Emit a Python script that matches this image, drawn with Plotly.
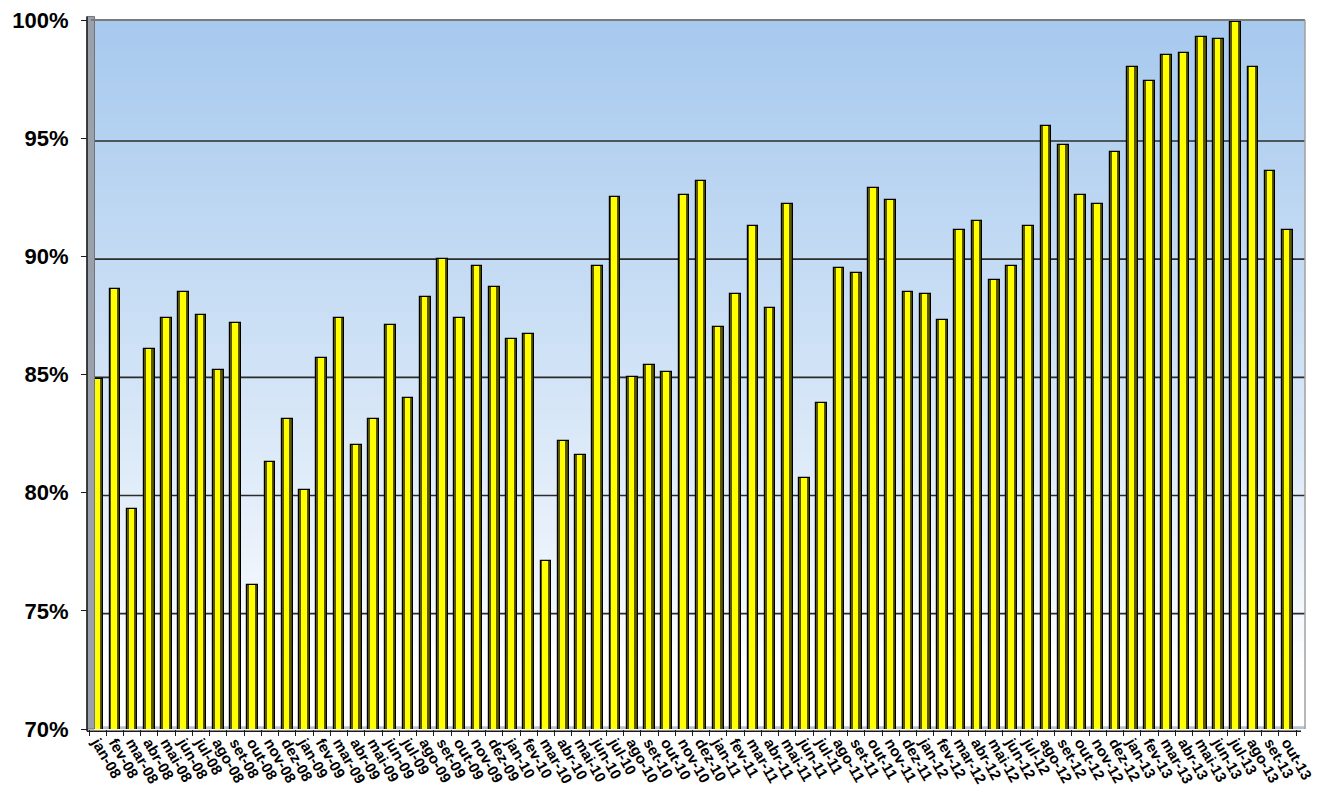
import plotly.graph_objects as go

# Monthly rates, jan-08 .. out-13 (percent)
months = [
    "jan-08", "fev-08", "mar-08", "abr-08", "mai-08", "jun-08", "jul-08", "ago-08", "set-08", "out-08", "nov-08", "dez-08",
    "jan-09", "fev-09", "mar-09", "abr-09", "mai-09", "jun-09", "jul-09", "ago-09", "set-09", "out-09", "nov-09", "dez-09",
    "jan-10", "fev-10", "mar-10", "abr-10", "mai-10", "jun-10", "jul-10", "ago-10", "set-10", "out-10", "nov-10", "dez-10",
    "jan-11", "fev-11", "mar-11", "abr-11", "mai-11", "jun-11", "jul-11", "ago-11", "set-11", "out-11", "nov-11", "dez-11",
    "jan-12", "fev-12", "mar-12", "abr-12", "mai-12", "jun-12", "jul-12", "ago-12", "set-12", "out-12", "nov-12", "dez-12",
    "jan-13", "fev-13", "mar-13", "abr-13", "mai-13", "jun-13", "jul-13", "ago-13", "set-13", "out-13",
]
values = [
    84.8, 88.6, 79.3, 86.1, 87.4, 88.5, 87.5, 85.2, 87.2, 76.1, 81.3, 83.1,
    80.1, 85.7, 87.4, 82.0, 83.1, 87.1, 84.0, 88.3, 89.9, 87.4, 89.6, 88.7,
    86.5, 86.7, 77.1, 82.2, 81.6, 89.6, 92.5, 84.9, 85.4, 85.1, 92.6, 93.2,
    87.0, 88.4, 91.3, 87.8, 92.2, 80.6, 83.8, 89.5, 89.3, 92.9, 92.4, 88.5,
    88.4, 87.3, 91.1, 91.5, 89.0, 89.6, 91.3, 95.5, 94.7, 92.6, 92.2, 94.4,
    98.0, 97.4, 98.5, 98.6, 99.3, 99.2, 99.9, 98.0, 93.6, 91.1,
]
y_ticks = [70, 75, 80, 85, 90, 95, 100]
y_tick_text = ["70%", "75%", "80%", "85%", "90%", "95%", "100%"]

W, H = 1317, 789
M_L, M_R, M_T, M_B = 89, 21, 20, 60
PW = W - M_L - M_R


def px_x(p):
    """Convert a horizontal pixel position to paper coordinates."""
    return (p - M_L) / PW


fig = go.Figure()

# column body: dark olive shading, bright yellow face, black outline
fig.add_trace(go.Bar(x=months, y=values, width=0.62, offset=-0.31,
                     marker=dict(color="#5a5700", line=dict(width=0)),
                     hoverinfo="skip", showlegend=False))
fig.add_trace(go.Bar(x=months, y=values, width=0.32, offset=-0.20,
                     marker=dict(color="#FFFF00", line=dict(width=0)),
                     hovertemplate="%{x}: %{y:.1f}%<extra></extra>", showlegend=False))
fig.add_trace(go.Bar(x=months, y=values, width=0.62, offset=-0.31,
                     marker=dict(color="rgba(0,0,0,0)", line=dict(color="#000000", width=1.2)),
                     hoverinfo="skip", showlegend=False))

shapes = []

# back wall: vertical gradient from pale blue at the top to white near the floor
top_rgb = (167, 201, 238)
n_bands = 90
step = 30 / n_bands
for i in range(n_bands):
    y0 = 70 + step * i
    y1 = y0 + step * 1.6  # overlap neighbouring bands to avoid seams
    t = max(0.0, min(1.0, (y0 + step / 2 - 72.5) / 27.5)) ** 0.85
    r, g, b = (round(255 + (c - 255) * t) for c in top_rgb)
    shapes.append(dict(type="rect", xref="paper", yref="y", x0=0, x1=px_x(1305), y0=y0, y1=min(y1, 100),
                       fillcolor=f"rgb({r},{g},{b})", line=dict(width=0), layer="below"))

# horizontal gridlines drawn on the wall
for v in y_ticks[1:-1]:
    shapes.append(dict(type="line", xref="paper", yref="y", x0=0, x1=px_x(1305), y0=v - 0.12, y1=v - 0.12,
                       line=dict(color="#2b2b2b", width=1.6), layer="below"))

# left side wall of the chart box
shapes.append(dict(type="rect", xref="paper", yref="paper", x0=px_x(87), x1=px_x(94.5), y0=0, y1=1.005,
                   fillcolor="#9aa1aa", line=dict(color="#6f747a", width=1), layer="above"))
# floor strip
shapes.append(dict(type="rect", xref="paper", yref="y", x0=px_x(87), x1=px_x(1305), y0=69.93, y1=70.12,
                   fillcolor="#b8c2cf", line=dict(width=0), layer="below"))
# top and right border of the wall
shapes.append(dict(type="line", xref="paper", yref="paper", x0=px_x(91), x1=px_x(1305), y0=1.0, y1=1.0,
                   line=dict(color="#7a7a7a", width=1.8), layer="above"))
shapes.append(dict(type="line", xref="paper", yref="paper", x0=px_x(1305), x1=px_x(1305), y0=0, y1=1.0,
                   line=dict(color="#a0a0a0", width=1.5), layer="above"))
# front axis lines
shapes.append(dict(type="line", xref="paper", yref="paper", x0=px_x(87), x1=px_x(87), y0=-0.003, y1=1.005,
                   line=dict(color="#1a1a1a", width=1.5), layer="above"))
shapes.append(dict(type="line", xref="paper", yref="paper", x0=px_x(87), x1=px_x(1301), y0=-0.003, y1=-0.003,
                   line=dict(color="#1a1a1a", width=1.5), layer="above"))

fig.update_layout(
    width=W, height=H,
    margin=dict(l=M_L, r=M_R, t=M_T, b=M_B, autoexpand=False),
    paper_bgcolor="white",
    plot_bgcolor="rgba(0,0,0,0)",
    barmode="overlay",
    bargap=0,
    shapes=shapes,
    font=dict(family="Liberation Sans, Arial, sans-serif", color="#000000"),
    xaxis=dict(
        type="category",
        range=[-0.5, len(months) - 0.5],
        tickmode="array", tickvals=months, ticktext=months,
        tickangle=60,
        tickson="boundaries",
        ticks="outside", ticklen=6, tickcolor="#1a1a1a", tickwidth=1.2,
        tickfont=dict(size=15, family="Liberation Sans, Arial, sans-serif", weight="bold"),
        ticklabelstandoff=1,
        showgrid=False, zeroline=False, showline=False,
        automargin=False,
    ),
    yaxis=dict(
        range=[70, 100],
        tickvals=y_ticks, ticktext=y_tick_text,
        ticks="outside", ticklen=7, tickcolor="#1a1a1a", tickwidth=1.2,
        tickfont=dict(size=22, family="Liberation Sans, Arial, sans-serif", weight="bold"),
        ticklabelstandoff=8,
        showgrid=False, zeroline=False, showline=False,
        automargin=False,
    ),
)

fig.write_html("out.html")
